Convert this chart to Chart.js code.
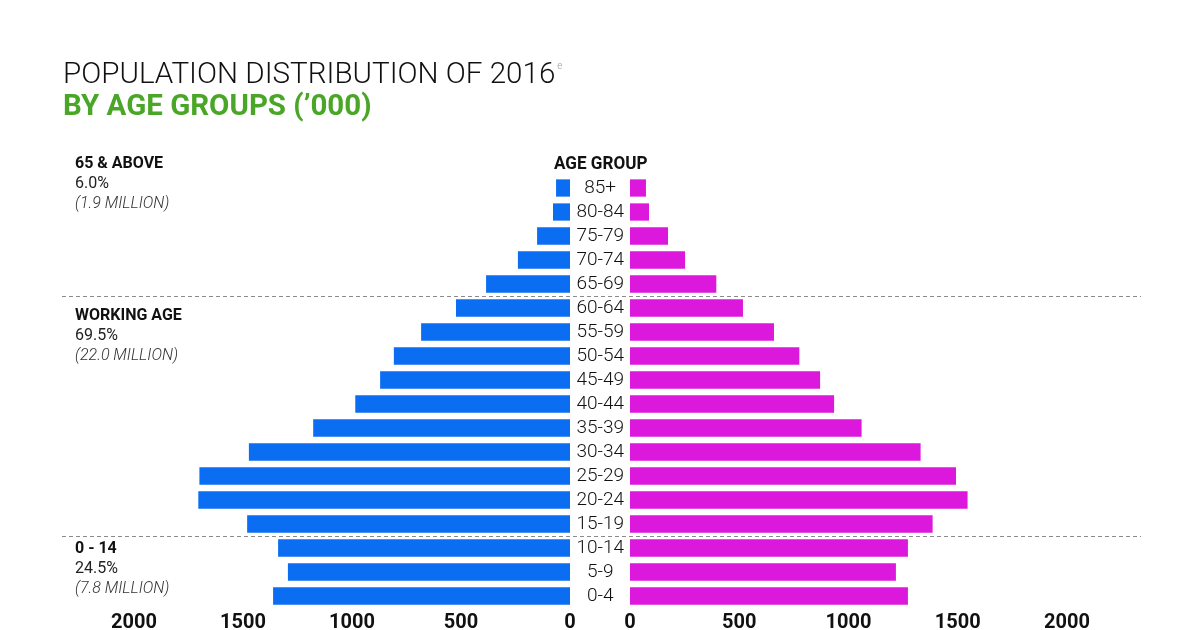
<!DOCTYPE html>
<html>
<head>
<meta charset="utf-8">
<script src="https://cdn.jsdelivr.net/npm/chart.js@4.4.1/dist/chart.umd.min.js"></script>
<style>
  html, body { margin: 0; padding: 0; background: #fff; overflow: hidden; }
  #page { position: relative; width: 1200px; height: 630px; }
  canvas { position: absolute; left: 0; top: 0; }
  .fit { position: absolute; white-space: nowrap; transform-origin: 0 0; display: inline-block; }
  #title { left: 63px; top: 49px; font: 300 30px Roboto, sans-serif; color: #111; line-height: 34px; }
  #title sup { font-size: 10px; color: #999; vertical-align: 14px; margin-left: 2px; }
  #subtitle { left: 63px; top: 88px; font: 700 29px Roboto, sans-serif; color: #4aa627; line-height: 34px; }
  #agehead { top: 152px; font: 700 18px Roboto, sans-serif; color: #111; line-height: 22px; }
  .note { position: absolute; left: 75px; font-family: Roboto, sans-serif; font-size: 16px; line-height: 20px; color: #111; }
  .note b { font-weight: 700; display: block; }
  .note span { display: block; color: #222; }
  .note i { display: block; font-weight: 300; color: #333; }
</style>
</head>
<body>
<div id="page">
  <canvas id="leftChart" width="1200" height="630"></canvas>
  <canvas id="rightChart" width="1200" height="630"></canvas>
  <div id="title" class="fit">POPULATION DISTRIBUTION OF 2016<sup>e</sup></div>
  <div id="subtitle" class="fit">BY AGE GROUPS (’000)</div>
  <div id="agehead" class="fit">AGE GROUP</div>
  <div class="note" style="top:153px"><b>65 &amp; ABOVE</b><span>6.0%</span><i>(1.9 MILLION)</i></div>
  <div class="note" style="top:305px"><b>WORKING AGE</b><span>69.5%</span><i>(22.0 MILLION)</i></div>
  <div class="note" style="top:538px"><b>0 - 14</b><span>24.5%</span><i>(7.8 MILLION)</i></div>
</div>
<script>
// age groups, top to bottom
const ageGroups = ["85+", "80-84", "75-79", "70-74", "65-69", "60-64", "55-59", "50-54", "45-49",
  "40-44", "35-39", "30-34", "25-29", "20-24", "15-19", "10-14", "5-9", "0-4"];
// left side (blue), '000
const blueValues = [64, 78, 151, 239, 385, 523, 683, 808, 871, 985, 1178, 1473, 1700, 1705, 1481, 1339, 1294, 1362];
// right side (magenta), '000
const pinkValues = [73, 87, 174, 252, 395, 517, 659, 775, 870, 934, 1060, 1330, 1492, 1545, 1385, 1272, 1217, 1272];
const tickValues = [0, 500, 1000, 1500, 2000];
// dashed separators sit between these pairs of rows
const groupBreaks = [["65-69", "60-64"], ["15-19", "10-14"]];

const blue = "#0b6ef2";
const pink = "#dd18dd";

// squeeze the headline text to the condensed width of the original
function fitWidth(id, target, centerX) {
  const el = document.getElementById(id);
  const k = target / el.offsetWidth;
  el.style.transform = "scaleX(" + k + ")";
  if (centerX !== undefined) el.style.left = (centerX - target / 2) + "px";
}
fitWidth("title", 499);
fitWidth("subtitle", 309);
fitWidth("agehead", 93, 600);

const tickFont = { family: "Roboto", size: 20, weight: "700" };

function xAxis(reverse) {
  return {
    type: "linear",
    min: 0,
    max: 2000,
    reverse: reverse,
    grid: { display: false, drawTicks: false },
    border: { display: false },
    afterBuildTicks: function (scale) {
      scale.ticks = tickValues.map(v => ({ value: v }));
    },
    afterFit: function (scale) { scale.height = 22; },
    ticks: {
      font: tickFont,
      color: "#111",
      padding: 3,
      callback: function (value) { return String(value); }
    }
  };
}

const dashedLines = {
  id: "dashedLines",
  afterDraw(chart) {
    const y = chart.scales.y;
    const ctx = chart.ctx;
    ctx.save();
    ctx.strokeStyle = "#8a8a8a";
    ctx.lineWidth = 1;
    ctx.setLineDash([4, 3]);
    groupBreaks.forEach(pair => {
      const py = Math.round((y.getPixelForValue(ageGroups.indexOf(pair[0])) +
        y.getPixelForValue(ageGroups.indexOf(pair[1]))) / 2) + 0.5;
      ctx.beginPath();
      ctx.moveTo(62, py);
      ctx.lineTo(1141, py);
      ctx.stroke();
    });
    ctx.restore();
  }
};

const common = {
  indexAxis: "y",
  responsive: false,
  animation: false,
  devicePixelRatio: 1,
  plugins: { legend: { display: false }, tooltip: { enabled: false } }
};

new Chart(document.getElementById("leftChart"), {
  type: "bar",
  data: {
    labels: ageGroups,
    datasets: [{
      data: blueValues,
      backgroundColor: blue,
      barPercentage: 0.72,
      categoryPercentage: 1.0
    }]
  },
  options: Object.assign({}, common, {
    layout: { padding: { left: 134, right: 630, top: 176, bottom: 0 } },
    scales: {
      x: xAxis(true),
      y: { type: "category", display: false }
    }
  })
});

new Chart(document.getElementById("rightChart"), {
  type: "bar",
  data: {
    labels: ageGroups,
    datasets: [{
      data: pinkValues,
      backgroundColor: pink,
      barPercentage: 0.72,
      categoryPercentage: 1.0
    }]
  },
  options: Object.assign({}, common, {
    layout: { padding: { left: 570, right: 133, top: 176, bottom: 0 } },
    scales: {
      x: xAxis(false),
      y: {
        type: "category",
        position: "left",
        grid: { display: false, drawTicks: false },
        border: { display: false },
        afterFit: function (scale) { scale.width = 60; },
        ticks: {
          autoSkip: false,
          crossAlign: "center",
          padding: 6,
          color: "#111",
          font: { family: "Roboto", size: 19, weight: "300" }
        }
      }
    }
  }),
  plugins: [dashedLines]
});
</script>
</body>
</html>
